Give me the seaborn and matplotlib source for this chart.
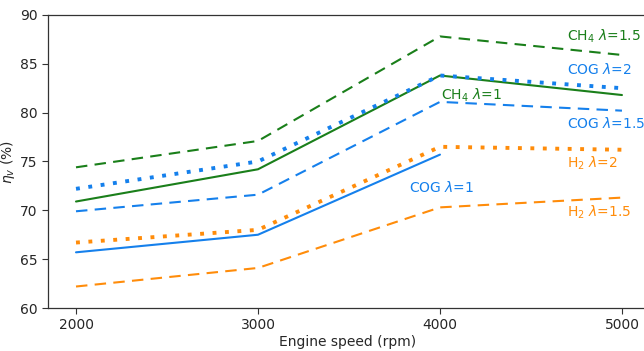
import matplotlib
matplotlib.use("Agg")
import matplotlib.pyplot as plt
import seaborn as sns
import pandas as pd

speeds = [2000, 3000, 4000, 5000]
ch4_l15 = [74.4, 77.1, 87.8, 85.9]
ch4_l1 = [70.9, 74.2, 83.8, 81.8]
cog_l2 = [72.2, 75.0, 83.8, 82.5]
cog_l15 = [69.9, 71.6, 81.1, 80.2]
cog_l1_speeds = [2000, 3000, 4000]
cog_l1 = [65.7, 67.5, 75.7]
h2_l2 = [66.7, 68.0, 76.5, 76.2]
h2_l15 = [62.2, 64.1, 70.3, 71.3]

GREEN = "#1a7f1a"
BLUE = "#1580ec"
ORANGE = "#ff8c0a"

sns.set_theme(style="ticks")
plt.rcParams['font.family'] = ['DejaVu Sans']
plt.rcParams['mathtext.fontset'] = 'dejavusans'

fig = plt.figure(figsize=(6.44, 3.51), dpi=100)
ax = fig.add_axes([0.0745, 0.1225, 0.93, 0.835])

series = [
    (speeds, ch4_l15, GREEN, (0, (5.5, 3.5)), 1.5),
    (speeds, ch4_l1, GREEN, '-', 1.5),
    (speeds, cog_l2, BLUE, (0, (1, 2.2)), 2.8),
    (speeds, cog_l15, BLUE, (0, (5.5, 3.5)), 1.5),
    (cog_l1_speeds, cog_l1, BLUE, '-', 1.5),
    (speeds, h2_l2, ORANGE, (0, (1, 2.2)), 2.8),
    (speeds, h2_l15, ORANGE, (0, (5.5, 3.5)), 1.5),
]
for xs, ys, c, ls, lw in series:
    df = pd.DataFrame({"x": xs, "y": ys})
    sns.lineplot(data=df, x="x", y="y", ax=ax, color=c, linewidth=lw)
    ax.lines[-1].set_linestyle(ls)

fs = 10
ax.text(4698, 87.85, r"CH$_4$ $\lambda$=1.5", color=GREEN, fontsize=fs, va="center")
ax.text(4698, 84.4, r"COG $\lambda$=2", color=BLUE, fontsize=fs, va="center")
ax.text(4005, 81.8, r"CH$_4$ $\lambda$=1", color=GREEN, fontsize=fs, va="center")
ax.text(4698, 78.85, r"COG $\lambda$=1.5", color=BLUE, fontsize=fs, va="center")
ax.text(3830, 72.3, r"COG $\lambda$=1", color=BLUE, fontsize=fs, va="center")
ax.text(4698, 74.85, r"H$_2$ $\lambda$=2", color=ORANGE, fontsize=fs, va="center")
ax.text(4698, 69.8, r"H$_2$ $\lambda$=1.5", color=ORANGE, fontsize=fs, va="center")

ax.set_xlim(1846, 5137)
ax.set_ylim(60, 90)
ax.set_xticks(speeds)
ax.set_yticks([60, 65, 70, 75, 80, 85, 90])
ax.set_xlabel("Engine speed (rpm)", fontsize=10, labelpad=2)
ax.set_ylabel(r"$\eta_v$ (%)", fontsize=10)
ax.yaxis.set_label_coords(-0.052, 0.5)
ax.tick_params(labelsize=10, length=4, width=0.8, color="#333333")
for s in ax.spines.values():
    s.set_color("#333333")
    s.set_linewidth(0.9)

fig.savefig("out.png", dpi=100)
